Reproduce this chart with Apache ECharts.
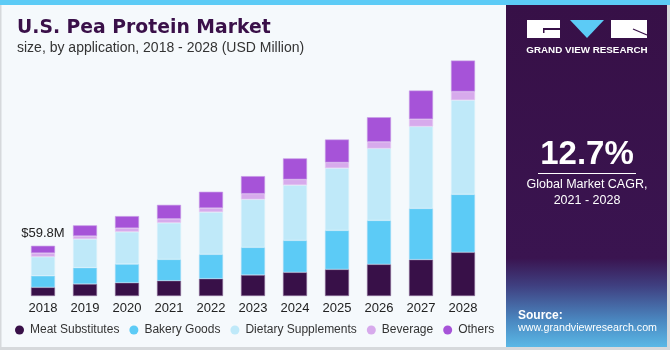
<!DOCTYPE html>
<html>
<head>
<meta charset="utf-8">
<script src="https://cdn.jsdelivr.net/npm/echarts@6/dist/echarts.min.js"></script>
<style>
  html, body { margin: 0; padding: 0; background: #f5f9fc; }
  #chart { width: 670px; height: 350px; }
</style>
</head>
<body>
<div id="chart"></div>
<script>
// 年份
var years = ['2018', '2019', '2020', '2021', '2022', '2023', '2024', '2025', '2026', '2027', '2028'];
// 各应用领域 (USD Million)
var meatSubstitutes = [10.3, 14.3, 15.8, 18.2, 20.6, 25.0, 28.2, 31.7, 37.7, 43.3, 52.0];
var bakeryGoods = [13.8, 19.4, 22.2, 25.4, 29.0, 32.9, 38.0, 46.4, 52.3, 61.0, 69.0];
var dietarySupplements = [22.6, 34.1, 38.4, 43.5, 50.3, 57.1, 65.8, 74.1, 85.6, 97.5, 112.1];
var beverage = [4.4, 3.6, 4.4, 4.8, 4.8, 6.8, 6.8, 6.8, 8.0, 8.7, 10.3];
var others = [8.7, 12.7, 14.3, 16.6, 19.4, 20.9, 25.0, 27.3, 29.2, 34.1, 36.9];
var firstLabel = '$59.8M';
var cagr = '12.7%';

var seriesNames = ['Meat Substitutes', 'Bakery Goods', 'Dietary Supplements', 'Beverage', 'Others'];
var seriesData = [meatSubstitutes, bakeryGoods, dietarySupplements, beverage, others];
var colors = ['#381048', '#5ccbf6', '#bfe9f9', '#d7aaec', '#a653d8'];
var borderColors = ['#8a6a96', '#9fdcf7', '#d9f2fb', '#e6c9f2', '#c69be6'];

var font = 'Liberation Sans, Arial, sans-serif';

var myChart = echarts.init(document.getElementById('chart'));

var series = seriesData.map(function (d, i) {
    var s = {
        name: seriesNames[i],
        type: 'bar',
        stack: 'total',
        barWidth: 24,
        itemStyle: {
            color: colors[i],
            borderColor: borderColors[i],
            borderWidth: 0.6
        },
        emphasis: { disabled: true },
        data: d.slice()
    };
    if (i === seriesData.length - 1) {
        s.data[0] = {
            value: d[0],
            label: {
                show: true,
                position: 'top',
                distance: 6,
                formatter: firstLabel,
                color: '#222',
                fontSize: 13,
                fontFamily: font
            }
        };
    }
    return s;
});

myChart.setOption({
    backgroundColor: '#f5f9fc',
    animation: false,
    color: colors,
    grid: {
        left: 22,
        right: 186,
        top: 44,
        bottom: 54
    },
    legend: {
        data: seriesNames,
        left: 15,
        top: 324,
        padding: 0,
        icon: 'circle',
        itemWidth: 9,
        itemHeight: 9,
        itemGap: 10,
        itemStyle: { borderWidth: 0 },
        textStyle: {
            color: '#333',
            fontSize: 12,
            fontFamily: font,
            padding: [0, 0, 0, 1]
        }
    },
    xAxis: {
        type: 'category',
        data: years,
        axisLine: { show: false },
        axisTick: { show: false },
        axisLabel: {
            color: '#222',
            fontSize: 13,
            fontFamily: font,
            margin: 6,
            interval: 0
        }
    },
    yAxis: {
        type: 'value',
        min: 0,
        max: 300,
        show: false
    },
    graphic: [
        // 上方蓝条
        { type: 'rect', shape: { x: 0, y: 0, width: 670, height: 5 }, style: { fill: '#5ccbf6' }, z: 10 },
        // 边框
        { type: 'rect', shape: { x: 0, y: 5, width: 1.5, height: 345 }, style: { fill: '#d6d9dc' }, z: 10 },
        { type: 'rect', shape: { x: 0, y: 347, width: 670, height: 3 }, style: { fill: '#d6d9dc' }, z: 10 },
        // 右侧面板
        {
            type: 'rect',
            shape: { x: 506, y: 5, width: 161, height: 342 },
            style: {
                fill: new echarts.graphic.LinearGradient(0, 0, 0, 1, [
                    { offset: 0, color: '#371047' },
                    { offset: 0.74, color: '#3a1450' },
                    { offset: 0.82, color: '#3f3f80' },
                    { offset: 0.92, color: '#4a86bf' },
                    { offset: 1, color: '#5ab8e6' }
                ])
            },
            z: 10
        },
        { type: 'rect', shape: { x: 667, y: 5, width: 3, height: 345 }, style: { fill: '#d6d9dc' }, z: 10 },
        // 网格纹理
        {
            type: 'group',
            z: 11,
            children: [
                { type: 'polyline', shape: { points: [[506, 292], [560, 289], [620, 291], [667, 288]] }, style: { stroke: 'rgba(255,255,255,0.18)', fill: null, lineWidth: 0.6 } },
                { type: 'polyline', shape: { points: [[506, 302], [560, 298], [620, 301], [667, 297]] }, style: { stroke: 'rgba(255,255,255,0.2)', fill: null, lineWidth: 0.6 } },
                { type: 'polyline', shape: { points: [[506, 313], [560, 309], [620, 312], [667, 308]] }, style: { stroke: 'rgba(255,255,255,0.22)', fill: null, lineWidth: 0.6 } },
                { type: 'polyline', shape: { points: [[506, 326], [560, 322], [620, 325], [667, 321]] }, style: { stroke: 'rgba(255,255,255,0.24)', fill: null, lineWidth: 0.6 } },
                { type: 'polyline', shape: { points: [[506, 340], [560, 336], [620, 339], [667, 335]] }, style: { stroke: 'rgba(255,255,255,0.26)', fill: null, lineWidth: 0.6 } },
                { type: 'line', shape: { x1: 520, y1: 347, x2: 545, y2: 286 }, style: { stroke: 'rgba(255,255,255,0.18)', lineWidth: 0.6 } },
                { type: 'line', shape: { x1: 550, y1: 347, x2: 565, y2: 286 }, style: { stroke: 'rgba(255,255,255,0.18)', lineWidth: 0.6 } },
                { type: 'line', shape: { x1: 585, y1: 347, x2: 588, y2: 286 }, style: { stroke: 'rgba(255,255,255,0.18)', lineWidth: 0.6 } },
                { type: 'line', shape: { x1: 620, y1: 347, x2: 610, y2: 286 }, style: { stroke: 'rgba(255,255,255,0.18)', lineWidth: 0.6 } },
                { type: 'line', shape: { x1: 655, y1: 347, x2: 632, y2: 286 }, style: { stroke: 'rgba(255,255,255,0.18)', lineWidth: 0.6 } }
            ]
        },
        // logo
        { type: 'rect', shape: { x: 527, y: 20, width: 33, height: 18 }, style: { fill: '#ffffff' }, z: 12 },
        { type: 'rect', shape: { x: 543, y: 28, width: 17, height: 2 }, style: { fill: '#371047' }, z: 13 },
        { type: 'rect', shape: { x: 543, y: 28, width: 1.5, height: 5 }, style: { fill: '#371047' }, z: 13 },
        { type: 'polygon', shape: { points: [[570, 20], [604, 20], [587, 38]] }, style: { fill: '#5ccbf6' }, z: 12 },
        { type: 'rect', shape: { x: 611, y: 20, width: 36, height: 18 }, style: { fill: '#ffffff' }, z: 12 },
        { type: 'line', shape: { x1: 633, y1: 29, x2: 647, y2: 35 }, style: { stroke: '#371047', lineWidth: 1.2 }, z: 13 },
        {
            type: 'text', z: 12,
            style: { text: 'GRAND VIEW RESEARCH', x: 587, y: 45, textAlign: 'center', fill: '#ffffff', font: 'bold 9.8px ' + font }
        },
        // CAGR
        {
            type: 'text', z: 12,
            style: { text: cagr, x: 587, y: 138, textAlign: 'center', fill: '#ffffff', font: 'bold 33px ' + font }
        },
        { type: 'rect', shape: { x: 538, y: 173, width: 98, height: 1 }, style: { fill: '#ffffff' }, z: 12 },
        {
            type: 'text', z: 12,
            style: { text: 'Global Market CAGR,', x: 587, y: 178, textAlign: 'center', fill: '#ffffff', font: '12.5px ' + font }
        },
        {
            type: 'text', z: 12,
            style: { text: '2021 - 2028', x: 587, y: 194, textAlign: 'center', fill: '#ffffff', font: '12.5px ' + font }
        },
        // Source
        {
            type: 'text', z: 12,
            style: { text: 'Source:', x: 518, y: 310, fill: '#ffffff', font: 'bold 12px ' + font }
        },
        {
            type: 'text', z: 12,
            style: { text: 'www.grandviewresearch.com', x: 518, y: 323, fill: '#ffffff', font: '10.7px ' + font }
        },
        // 标题
        {
            type: 'text', z: 12,
            style: { text: 'U.S. Pea Protein Market', x: 17, y: 19, fill: '#3a1049', font: 'bold 18.8px DejaVu Sans, sans-serif' }
        },
        {
            type: 'text', z: 12,
            style: { text: 'size, by application, 2018 - 2028 (USD Million)', x: 17, y: 41, fill: '#333', font: '14px ' + font }
        }
    ],
    series: series
});
</script>
</body>
</html>
